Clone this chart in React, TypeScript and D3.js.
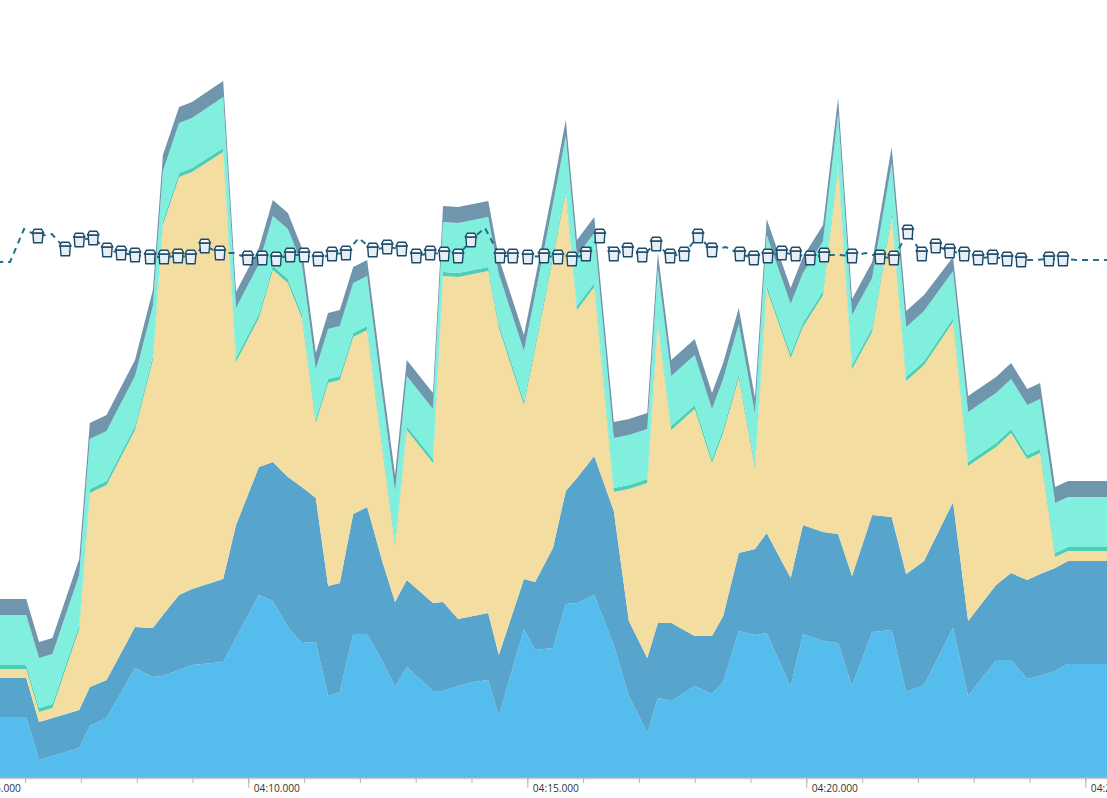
import * as d3 from 'd3'
import { useRef, useEffect } from 'react'

const svgWidth = 1107
const svgHeight = 798
const plotBottom = 778

// seconds after 04:00 for every stacked sample
const times = [5.5, 6.02, 6.25, 6.49, 6.97, 7.16, 7.46, 7.97, 8.29, 8.47, 8.76, 8.99, 9.55, 9.78, 10.19, 10.44, 10.71, 10.96, 11.21, 11.43, 11.64, 11.88, 12.13, 12.41, 12.63, 12.84, 13.31, 13.49, 13.76, 14.03, 14.3, 14.49, 14.94, 15.14, 15.46, 15.69, 15.89, 16.2, 16.55, 16.82, 17.15, 17.34, 17.58, 18.0, 18.31, 18.51, 18.79, 19.08, 19.29, 19.72, 19.94, 20.3, 20.57, 20.82, 21.18, 21.53, 21.79, 22.11, 22.63, 22.9, 23.4, 23.67, 23.96, 24.19, 24.46, 24.69, 25.4]
const lightBlue = [61, 61, 18, 22, 30, 52, 60, 110, 101, 102, 108, 113, 116, 140, 183, 177, 151, 135, 136, 82, 86, 144, 144, 116, 91, 111, 87, 87, 92, 96, 98, 62, 149, 128, 130, 174, 175, 183, 133, 82, 45, 80, 77, 92, 84, 96, 147, 143, 145, 91, 144, 137, 135, 92, 146, 148, 86, 93, 150, 82, 118, 118, 99, 102, 107, 114, 114]
const steelBlue = [39, 39, 38, 38, 38, 39, 38, 41, 49, 61, 75, 76, 83, 113, 128, 139, 150, 156, 144, 110, 109, 120, 127, 99, 85, 87, 88, 89, 67, 66, 67, 61, 50, 68, 100, 113, 125, 139, 134, 75, 75, 75, 78, 50, 58, 66, 78, 86, 100, 109, 109, 109, 109, 110, 117, 113, 118, 124, 126, 75, 75, 87, 99, 102, 103, 103, 103]
const sand = [9, 9, 10, 10, 81, 194, 195, 197, 268, 390, 418, 417, 427, 163, 149, 192, 194, 169, 75, 203, 203, 177, 177, 110, 57, 150, 140, 326, 342, 342, 342, 327, 174, 233, 290, 299, 168, 169, 19, 132, 175, 300, 193, 227, 173, 183, 175, 81, 244, 220, 198, 237, 366, 207, 183, 300, 193, 196, 180, 155, 138, 140, 121, 121, 11, 10, 10]
const teal = [4, 4, 4, 4, 4, 4, 4, 4, 4, 4, 4, 4, 4, 4, 4, 4, 4, 4, 4, 4, 4, 4, 4, 4, 4, 4, 4, 4, 4, 4, 4, 4, 4, 4, 4, 4, 4, 4, 4, 4, 4, 4, 4, 4, 4, 4, 4, 4, 4, 4, 4, 4, 4, 4, 4, 4, 4, 4, 4, 4, 4, 4, 4, 4, 4, 4, 4]
const aqua = [50, 50, 50, 50, 50, 50, 50, 50, 50, 50, 50, 50, 51, 50, 50, 50, 50, 50, 50, 50, 50, 50, 50, 50, 50, 50, 50, 50, 50, 50, 50, 50, 50, 50, 50, 52, 50, 50, 50, 50, 50, 50, 50, 50, 50, 50, 50, 50, 50, 50, 50, 50, 50, 50, 50, 50, 50, 50, 47, 50, 50, 50, 50, 50, 50, 50, 50]
const slate = [16, 16, 16, 16, 16, 16, 16, 16, 16, 16, 16, 16, 16, 16, 16, 16, 16, 16, 16, 16, 16, 16, 16, 16, 16, 16, 16, 16, 16, 16, 16, 16, 16, 16, 16, 16, 16, 16, 16, 16, 16, 16, 16, 16, 16, 16, 16, 16, 16, 16, 16, 16, 16, 16, 16, 16, 16, 16, 14, 16, 16, 16, 16, 16, 16, 16, 16]

const lineTimes = [5.5, 5.73, 5.98, 6.23, 6.48, 6.72, 6.97, 7.22, 7.47, 7.72, 7.97, 8.24, 8.49, 8.74, 8.97, 9.22, 9.49, 9.74, 9.99, 10.25, 10.5, 10.75, 11.0, 11.25, 11.5, 11.75, 11.98, 12.23, 12.49, 12.75, 13.01, 13.26, 13.51, 13.76, 13.99, 14.24, 14.51, 14.74, 15.01, 15.3, 15.55, 15.8, 16.05, 16.3, 16.55, 16.8, 17.06, 17.31, 17.56, 17.81, 18.06, 18.31, 18.56, 18.81, 19.06, 19.31, 19.56, 19.81, 20.07, 20.32, 20.57, 20.82, 21.07, 21.32, 21.57, 21.82, 22.07, 22.32, 22.57, 22.83, 23.08, 23.34, 23.6, 23.85, 24.1, 24.35, 24.6, 24.85, 25.1, 25.4]
const lineValues = [516, 516, 549, 542, 544, 529, 538, 540, 528, 525, 523, 521, 521, 522, 521, 532, 525, 525, 520, 520, 519, 523, 523, 519, 524, 525, 540, 528, 531, 529, 522, 525, 524, 522, 538, 550, 522, 522, 521, 522, 521, 519, 524, 542, 524, 528, 523, 534, 522, 524, 542, 528, 531, 524, 520, 522, 525, 524, 520, 523, 523, 522, 525, 521, 520, 546, 524, 532, 527, 524, 520, 521, 519, 518, 518, 519, 519, 518, 518, 518]
// samples of the line that have no bucket on them
const noMarker = [5.5, 5.73, 5.98, 6.48, 9.74, 11.98, 14.24, 18.56, 20.57, 21.07, 24.1, 24.85, 25.1, 25.4]

const layerKeys = ['lightBlue', 'steelBlue', 'sand', 'teal', 'aqua', 'slate']
const layerColors = ['#55bcee', '#57a5cc', '#f3dda0', '#4dcfb5', '#80efdd', '#6f96ad']

const at = (s: number) => new Date(Date.UTC(2000, 0, 1, 0, 4, 0) + s * 1000)

export default function App() {
  const svgRef = useRef(null)

  useEffect((): void => {
    const SVG = d3.select(svgRef.current)
    SVG.selectAll('*').remove()

    const xScale = d3.scaleUtc()
      .domain([at(5), at(26)])
      .range([-30.7, 1141.1])
    const yScale = d3.scaleLinear()
      .domain([0, 778])
      .range([plotBottom, 0])

    const rows = times.map((t, i) => ({
      t,
      lightBlue: lightBlue[i],
      steelBlue: steelBlue[i],
      sand: sand[i],
      teal: teal[i],
      aqua: aqua[i],
      slate: slate[i],
    }))
    const layers = d3.stack().keys(layerKeys)(rows as any)
    const area = d3.area<any>()
      .x((d) => xScale(at(d.data.t)))
      .y0((d) => yScale(d[0]))
      .y1((d) => yScale(d[1]))

    SVG.selectAll('path.layer')
      .data(layers)
      .enter()
      .append('path')
      .attr('class', 'layer')
      .attr('d', area as any)
      .attr('fill', (d, i) => layerColors[i])

    // minor ticks each second, major ticks with labels each 5 seconds
    const seconds = d3.range(5, 27).map(at)
    const minorAxis = d3.axisBottom(xScale)
      .tickValues(seconds)
      .tickSize(5)
      .tickFormat(() => '')
    const majorAxis = d3.axisBottom(xScale)
      .tickValues([5, 10, 15, 20, 25].map(at))
      .tickSize(10)
      .tickFormat(d3.utcFormat('%M:%S.%L') as any)

    const minor = SVG.append('g')
      .attr('transform', `translate(0,${plotBottom})`)
      .call(minorAxis as any)
    minor.select('.domain').attr('stroke', '#cccccc').attr('stroke-width', 1.5)
    minor.selectAll('line').attr('stroke', '#b5b5b5')

    const major = SVG.append('g')
      .attr('transform', `translate(0,${plotBottom})`)
      .call(majorAxis as any)
    major.select('.domain').remove()
    major.selectAll('line').attr('stroke', '#b5b5b5')
    major.selectAll('text')
      .attr('text-anchor', 'start')
      .attr('x', 5)
      .attr('y', 11)
      .attr('dy', '0.32em')
      .attr('fill', '#333333')
      .style('font-family', '"Open Sans", sans-serif')
      .style('font-size', '10.2px')

    // dashed line with bucket markers on top of the stack
    const line = d3.line<number>()
      .x((d, i) => xScale(at(lineTimes[i])))
      .y((d) => yScale(d))
    SVG.append('path')
      .attr('d', line(lineValues))
      .attr('fill', 'none')
      .attr('stroke', '#236e8c')
      .attr('stroke-width', 2)
      .attr('stroke-dasharray', '6,5')

    const points = lineValues
      .map((v, i) => ({ t: lineTimes[i], v }))
      .filter((d) => !noMarker.includes(d.t))
    const markers = SVG.selectAll('g.marker')
      .data(points)
      .enter()
      .append('g')
      .attr('class', 'marker')
      .attr('transform', (d) => `translate(${xScale(at(d.t))},${yScale(d.v)})`)
      .attr('stroke', '#1b4a68')
      .attr('stroke-width', 1.4)
      .attr('stroke-linejoin', 'round')
    markers.append('path')
      .attr('d', 'M-5,-3 L-4.3,6.8 L4.3,6.8 L5,-3 Z')
      .attr('fill', '#e8eef5')
    markers.append('path')
      .attr('d', 'M-3.6,-6.8 L3.6,-6.8 L5.8,-3 L-5.8,-3 Z')
      .attr('fill', '#f7f9fb')
  }, [])

  return (
    <svg
      ref={svgRef}
      width={svgWidth}
      height={svgHeight}
      style={{ position: 'absolute', left: 0, top: 0, background: '#ffffff' }}
    ></svg>
  )
}
